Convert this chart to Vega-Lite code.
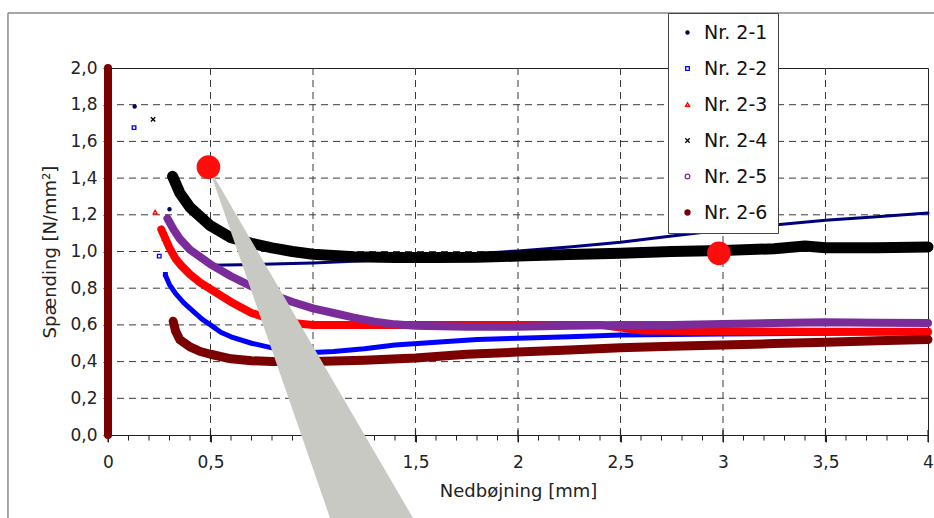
{
  "$schema": "https://vega.github.io/schema/vega-lite/v6.json",
  "width": 820,
  "height": 367,
  "autosize": {"type": "none"},
  "padding": {"left": 108, "top": 68, "right": 6, "bottom": 83},
  "background": "white",
  "config": {
    "font": "DejaVu Sans",
    "view": {"stroke": "#222", "strokeWidth": 1},
    "axis": {
      "labelFont": "DejaVu Sans", "titleFont": "DejaVu Sans",
      "labelColor": "#222", "titleColor": "#222", "titleFontWeight": "normal",
      "domainColor": "#222", "ticks": true, "tickColor": "#222", "tickWidth": 1, "grid": false,
      "labelFontSize": 17, "titleFontSize": 18,
      "labelOverlap": false, "labelFlush": false
    },
    "axisX": {
      "tickCount": 8, "tickSize": 7,
      "labelExpr": "datum.value == 1 ? '' : replace(format(datum.value,'~g'),'.',',')",
      "labelPadding": 12, "titlePadding": 12
    },
    "axisY": {
      "tickCount": 10, "tickSize": 5,
      "labelExpr": "replace(format(datum.value,'.1f'),'.',',')",
      "labelPadding": 6, "titlePadding": 10
    }
  },
  "datasets": {
    "zero": [
      {"s": "Nr. 2-6", "x": 0, "y": 0},
      {"s": "Nr. 2-6", "x": 0, "y": 2.0}
    ],
    "xgrid": [{"x": 0.5}, {"x": 1}, {"x": 1.5}, {"x": 2}, {"x": 2.5}, {"x": 3}, {"x": 3.5}],
    "ygrid": [{"y": 0.2}, {"y": 0.4}, {"y": 0.6}, {"y": 0.8}, {"y": 1.0}, {"y": 1.2}, {"y": 1.4}, {"y": 1.6}, {"y": 1.8}],
    "xminor": [
      {"x": 0.1, "y": 0}, {"x": 0.2, "y": 0}, {"x": 0.3, "y": 0}, {"x": 0.4, "y": 0}, {"x": 0.6, "y": 0}, {"x": 0.7, "y": 0}, {"x": 0.8, "y": 0}, {"x": 0.9, "y": 0},
      {"x": 1.1, "y": 0}, {"x": 1.2, "y": 0}, {"x": 1.3, "y": 0}, {"x": 1.4, "y": 0}, {"x": 1.6, "y": 0}, {"x": 1.7, "y": 0}, {"x": 1.8, "y": 0}, {"x": 1.9, "y": 0},
      {"x": 2.1, "y": 0}, {"x": 2.2, "y": 0}, {"x": 2.3, "y": 0}, {"x": 2.4, "y": 0}, {"x": 2.6, "y": 0}, {"x": 2.7, "y": 0}, {"x": 2.8, "y": 0}, {"x": 2.9, "y": 0},
      {"x": 3.1, "y": 0}, {"x": 3.2, "y": 0}, {"x": 3.3, "y": 0}, {"x": 3.4, "y": 0}, {"x": 3.6, "y": 0}, {"x": 3.7, "y": 0}, {"x": 3.8, "y": 0}, {"x": 3.9, "y": 0}
    ],
    "xmajor": [{"x": 0, "y": 0}, {"x": 0.5, "y": 0}, {"x": 1, "y": 0}, {"x": 1.5, "y": 0}, {"x": 2, "y": 0}, {"x": 2.5, "y": 0}, {"x": 3, "y": 0}, {"x": 3.5, "y": 0}, {"x": 4, "y": 0}],
    "curves": [
      {"s": "Nr. 2-1", "x": 0.5, "y": 0.925}, {"s": "Nr. 2-1", "x": 0.75, "y": 0.93}, {"s": "Nr. 2-1", "x": 1.0, "y": 0.937},
      {"s": "Nr. 2-1", "x": 1.25, "y": 0.95}, {"s": "Nr. 2-1", "x": 1.5, "y": 0.965}, {"s": "Nr. 2-1", "x": 1.75, "y": 0.985},
      {"s": "Nr. 2-1", "x": 2.0, "y": 1.003}, {"s": "Nr. 2-1", "x": 2.25, "y": 1.025}, {"s": "Nr. 2-1", "x": 2.5, "y": 1.05},
      {"s": "Nr. 2-1", "x": 2.75, "y": 1.085}, {"s": "Nr. 2-1", "x": 3.0, "y": 1.117}, {"s": "Nr. 2-1", "x": 3.25, "y": 1.145},
      {"s": "Nr. 2-1", "x": 3.5, "y": 1.17}, {"s": "Nr. 2-1", "x": 3.75, "y": 1.19}, {"s": "Nr. 2-1", "x": 4.0, "y": 1.21},

      {"s": "Nr. 2-2", "x": 0.28, "y": 0.87}, {"s": "Nr. 2-2", "x": 0.3, "y": 0.82}, {"s": "Nr. 2-2", "x": 0.33, "y": 0.77},
      {"s": "Nr. 2-2", "x": 0.37, "y": 0.72}, {"s": "Nr. 2-2", "x": 0.42, "y": 0.67}, {"s": "Nr. 2-2", "x": 0.46, "y": 0.63},
      {"s": "Nr. 2-2", "x": 0.5, "y": 0.6}, {"s": "Nr. 2-2", "x": 0.55, "y": 0.56}, {"s": "Nr. 2-2", "x": 0.6, "y": 0.535},
      {"s": "Nr. 2-2", "x": 0.7, "y": 0.5}, {"s": "Nr. 2-2", "x": 0.8, "y": 0.475}, {"s": "Nr. 2-2", "x": 0.9, "y": 0.457},
      {"s": "Nr. 2-2", "x": 1.0, "y": 0.45}, {"s": "Nr. 2-2", "x": 1.1, "y": 0.455}, {"s": "Nr. 2-2", "x": 1.25, "y": 0.47},
      {"s": "Nr. 2-2", "x": 1.4, "y": 0.49}, {"s": "Nr. 2-2", "x": 1.6, "y": 0.505}, {"s": "Nr. 2-2", "x": 1.8, "y": 0.52},
      {"s": "Nr. 2-2", "x": 2.0, "y": 0.527}, {"s": "Nr. 2-2", "x": 2.25, "y": 0.535}, {"s": "Nr. 2-2", "x": 2.5, "y": 0.545},
      {"s": "Nr. 2-2", "x": 3.0, "y": 0.55}, {"s": "Nr. 2-2", "x": 3.5, "y": 0.555}, {"s": "Nr. 2-2", "x": 4.0, "y": 0.56},

      {"s": "Nr. 2-3", "x": 0.26, "y": 1.12}, {"s": "Nr. 2-3", "x": 0.28, "y": 1.07}, {"s": "Nr. 2-3", "x": 0.3, "y": 1.02},
      {"s": "Nr. 2-3", "x": 0.33, "y": 0.96}, {"s": "Nr. 2-3", "x": 0.36, "y": 0.92}, {"s": "Nr. 2-3", "x": 0.4, "y": 0.875},
      {"s": "Nr. 2-3", "x": 0.45, "y": 0.83}, {"s": "Nr. 2-3", "x": 0.5, "y": 0.795}, {"s": "Nr. 2-3", "x": 0.6, "y": 0.725},
      {"s": "Nr. 2-3", "x": 0.7, "y": 0.665}, {"s": "Nr. 2-3", "x": 0.8, "y": 0.63}, {"s": "Nr. 2-3", "x": 0.9, "y": 0.61},
      {"s": "Nr. 2-3", "x": 1.0, "y": 0.6}, {"s": "Nr. 2-3", "x": 1.25, "y": 0.6}, {"s": "Nr. 2-3", "x": 1.5, "y": 0.6},
      {"s": "Nr. 2-3", "x": 2.0, "y": 0.6}, {"s": "Nr. 2-3", "x": 2.4, "y": 0.6}, {"s": "Nr. 2-3", "x": 2.6, "y": 0.57},
      {"s": "Nr. 2-3", "x": 3.0, "y": 0.565}, {"s": "Nr. 2-3", "x": 3.5, "y": 0.563}, {"s": "Nr. 2-3", "x": 4.0, "y": 0.562},

      {"s": "Nr. 2-4", "x": 0.315, "y": 1.41}, {"s": "Nr. 2-4", "x": 0.35, "y": 1.32}, {"s": "Nr. 2-4", "x": 0.4, "y": 1.24},
      {"s": "Nr. 2-4", "x": 0.45, "y": 1.19}, {"s": "Nr. 2-4", "x": 0.5, "y": 1.14}, {"s": "Nr. 2-4", "x": 0.6, "y": 1.075},
      {"s": "Nr. 2-4", "x": 0.7, "y": 1.045}, {"s": "Nr. 2-4", "x": 0.8, "y": 1.02}, {"s": "Nr. 2-4", "x": 0.9, "y": 1.0},
      {"s": "Nr. 2-4", "x": 1.0, "y": 0.985}, {"s": "Nr. 2-4", "x": 1.2, "y": 0.972}, {"s": "Nr. 2-4", "x": 1.4, "y": 0.967},
      {"s": "Nr. 2-4", "x": 1.6, "y": 0.967}, {"s": "Nr. 2-4", "x": 1.8, "y": 0.968}, {"s": "Nr. 2-4", "x": 2.0, "y": 0.975},
      {"s": "Nr. 2-4", "x": 2.25, "y": 0.983}, {"s": "Nr. 2-4", "x": 2.5, "y": 0.99}, {"s": "Nr. 2-4", "x": 2.75, "y": 1.0},
      {"s": "Nr. 2-4", "x": 3.0, "y": 1.006}, {"s": "Nr. 2-4", "x": 3.25, "y": 1.015}, {"s": "Nr. 2-4", "x": 3.4, "y": 1.03},
      {"s": "Nr. 2-4", "x": 3.5, "y": 1.02}, {"s": "Nr. 2-4", "x": 3.75, "y": 1.02}, {"s": "Nr. 2-4", "x": 4.0, "y": 1.025},

      {"s": "Nr. 2-5", "x": 0.29, "y": 1.18}, {"s": "Nr. 2-5", "x": 0.32, "y": 1.12}, {"s": "Nr. 2-5", "x": 0.35, "y": 1.07},
      {"s": "Nr. 2-5", "x": 0.4, "y": 1.01}, {"s": "Nr. 2-5", "x": 0.45, "y": 0.97}, {"s": "Nr. 2-5", "x": 0.5, "y": 0.93},
      {"s": "Nr. 2-5", "x": 0.6, "y": 0.865}, {"s": "Nr. 2-5", "x": 0.7, "y": 0.81}, {"s": "Nr. 2-5", "x": 0.8, "y": 0.765},
      {"s": "Nr. 2-5", "x": 0.9, "y": 0.725}, {"s": "Nr. 2-5", "x": 1.0, "y": 0.69}, {"s": "Nr. 2-5", "x": 1.1, "y": 0.665},
      {"s": "Nr. 2-5", "x": 1.2, "y": 0.64}, {"s": "Nr. 2-5", "x": 1.3, "y": 0.618}, {"s": "Nr. 2-5", "x": 1.4, "y": 0.603},
      {"s": "Nr. 2-5", "x": 1.5, "y": 0.595}, {"s": "Nr. 2-5", "x": 1.75, "y": 0.59}, {"s": "Nr. 2-5", "x": 2.0, "y": 0.59},
      {"s": "Nr. 2-5", "x": 2.25, "y": 0.595}, {"s": "Nr. 2-5", "x": 2.5, "y": 0.6}, {"s": "Nr. 2-5", "x": 2.75, "y": 0.6},
      {"s": "Nr. 2-5", "x": 3.0, "y": 0.605}, {"s": "Nr. 2-5", "x": 3.25, "y": 0.61}, {"s": "Nr. 2-5", "x": 3.5, "y": 0.615},
      {"s": "Nr. 2-5", "x": 3.75, "y": 0.612}, {"s": "Nr. 2-5", "x": 4.0, "y": 0.61},

      {"s": "Nr. 2-6", "x": 0.318, "y": 0.62}, {"s": "Nr. 2-6", "x": 0.33, "y": 0.565}, {"s": "Nr. 2-6", "x": 0.35, "y": 0.52},
      {"s": "Nr. 2-6", "x": 0.4, "y": 0.48}, {"s": "Nr. 2-6", "x": 0.45, "y": 0.455}, {"s": "Nr. 2-6", "x": 0.5, "y": 0.44},
      {"s": "Nr. 2-6", "x": 0.6, "y": 0.415}, {"s": "Nr. 2-6", "x": 0.7, "y": 0.405}, {"s": "Nr. 2-6", "x": 0.8, "y": 0.4},
      {"s": "Nr. 2-6", "x": 1.0, "y": 0.4}, {"s": "Nr. 2-6", "x": 1.25, "y": 0.407}, {"s": "Nr. 2-6", "x": 1.5, "y": 0.42},
      {"s": "Nr. 2-6", "x": 1.75, "y": 0.44}, {"s": "Nr. 2-6", "x": 2.0, "y": 0.452}, {"s": "Nr. 2-6", "x": 2.25, "y": 0.463},
      {"s": "Nr. 2-6", "x": 2.5, "y": 0.475}, {"s": "Nr. 2-6", "x": 2.75, "y": 0.483}, {"s": "Nr. 2-6", "x": 3.0, "y": 0.49},
      {"s": "Nr. 2-6", "x": 3.25, "y": 0.498}, {"s": "Nr. 2-6", "x": 3.5, "y": 0.505}, {"s": "Nr. 2-6", "x": 3.75, "y": 0.513},
      {"s": "Nr. 2-6", "x": 4.0, "y": 0.52}
    ],
    "markers": [
      {"s": "Nr. 2-1", "x": 0.13, "y": 1.79}, {"s": "Nr. 2-1", "x": 0.3, "y": 1.23},
      {"s": "Nr. 2-2", "x": 0.127, "y": 1.675}, {"s": "Nr. 2-2", "x": 0.25, "y": 0.975}, {"s": "Nr. 2-2", "x": 0.28, "y": 0.875},
      {"s": "Nr. 2-3", "x": 0.23, "y": 1.215}, {"s": "Nr. 2-3", "x": 0.26, "y": 1.12}, {"s": "Nr. 2-3", "x": 0.275, "y": 1.07},
      {"s": "Nr. 2-4", "x": 0.22, "y": 1.72}, {"s": "Nr. 2-4", "x": 0.315, "y": 1.41}, {"s": "Nr. 2-4", "x": 0.33, "y": 1.37}, {"s": "Nr. 2-4", "x": 0.345, "y": 1.34},
      {"s": "Nr. 2-5", "x": 0.29, "y": 1.18}, {"s": "Nr. 2-5", "x": 0.305, "y": 1.15}, {"s": "Nr. 2-5", "x": 0.32, "y": 1.12}, {"s": "Nr. 2-5", "x": 0.34, "y": 1.09}, {"s": "Nr. 2-5", "x": 4.0, "y": 0.61},
      {"s": "Nr. 2-6", "x": 0.318, "y": 0.62}
    ],
    "pointer": [
      {"y": 1.46, "x": 0.49, "xr": 0.49},
      {"y": -0.6, "x": 1.129, "xr": 1.565}
    ],
    "callouts": [
      {"x": 0.49, "y": 1.46},
      {"x": 2.98, "y": 0.99}
    ],
    "frame": [
      {"x": -0.488, "y": 2.3, "x2": 4.3, "y2": -0.6}
    ]
  },
  "layer": [
    {
      "data": {"name": "xgrid"},
      "mark": {"type": "rule", "color": "#3a3a3a", "strokeWidth": 1, "strokeDash": [7, 5]},
      "encoding": {
        "x": {"field": "x", "type": "quantitative", "title": "Nedbøjning [mm]", "scale": {"domain": [0, 4], "nice": false, "zero": false}}
      }
    },
    {
      "data": {"name": "ygrid"},
      "mark": {"type": "rule", "color": "#3a3a3a", "strokeWidth": 1, "strokeDash": [7, 5]},
      "encoding": {
        "y": {"field": "y", "type": "quantitative", "title": "Spænding [N/mm²]", "scale": {"domain": [0, 2], "nice": false, "zero": false}}
      }
    },
    {
      "data": {"name": "xminor"},
      "mark": {"type": "tick", "orient": "vertical", "color": "#222", "size": 5, "thickness": 1, "yOffset": 3, "opacity": 1},
      "encoding": {
        "x": {"field": "x", "type": "quantitative", "title": "Nedbøjning [mm]", "scale": {"domain": [0, 4], "nice": false, "zero": false}},
        "y": {"field": "y", "type": "quantitative", "title": "Spænding [N/mm²]", "scale": {"domain": [0, 2], "nice": false, "zero": false}}
      }
    },
    {
      "data": {"name": "xmajor"},
      "mark": {"type": "tick", "orient": "vertical", "color": "#222", "size": 12, "thickness": 1.2, "yOffset": 1, "opacity": 1},
      "encoding": {
        "x": {"field": "x", "type": "quantitative", "title": "Nedbøjning [mm]", "scale": {"domain": [0, 4], "nice": false, "zero": false}},
        "y": {"field": "y", "type": "quantitative", "title": "Spænding [N/mm²]", "scale": {"domain": [0, 2], "nice": false, "zero": false}}
      }
    },
    {
      "data": {"name": "curves"},
      "transform": [{"filter": "datum.s == 'Nr. 2-1'"}],
      "mark": {"type": "line", "color": "#00007a", "strokeWidth": 3, "strokeCap": "round", "strokeJoin": "round"},
      "encoding": {
        "x": {"field": "x", "type": "quantitative", "title": "Nedbøjning [mm]", "scale": {"domain": [0, 4], "nice": false, "zero": false}},
        "y": {"field": "y", "type": "quantitative", "title": "Spænding [N/mm²]", "scale": {"domain": [0, 2], "nice": false, "zero": false}}
      }
    },
    {
      "data": {"name": "frame"},
      "mark": {"type": "rule", "color": "#8a8a8a", "strokeWidth": 1.5},
      "encoding": {
        "x": {"field": "x", "type": "quantitative", "title": "Nedbøjning [mm]", "scale": {"domain": [0, 4], "nice": false, "zero": false}},
        "y": {"field": "y", "type": "quantitative", "title": "Spænding [N/mm²]", "scale": {"domain": [0, 2], "nice": false, "zero": false}},
        "y2": {"field": "y2"}
      }
    },
    {
      "data": {"name": "frame"},
      "mark": {"type": "rule", "color": "#8a8a8a", "strokeWidth": 1.5},
      "encoding": {
        "x": {"field": "x", "type": "quantitative", "title": "Nedbøjning [mm]", "scale": {"domain": [0, 4], "nice": false, "zero": false}},
        "y": {"field": "y", "type": "quantitative", "title": "Spænding [N/mm²]", "scale": {"domain": [0, 2], "nice": false, "zero": false}},
        "x2": {"field": "x2"}
      }
    },
    {
      "data": {"name": "curves"},
      "transform": [{"filter": "datum.s == 'Nr. 2-2'"}],
      "mark": {"type": "line", "color": "#0000ff", "strokeWidth": 5, "strokeCap": "round", "strokeJoin": "round"},
      "encoding": {
        "x": {"field": "x", "type": "quantitative", "title": "Nedbøjning [mm]", "scale": {"domain": [0, 4], "nice": false, "zero": false}},
        "y": {"field": "y", "type": "quantitative", "title": "Spænding [N/mm²]", "scale": {"domain": [0, 2], "nice": false, "zero": false}}
      }
    },
    {
      "data": {"name": "curves"},
      "transform": [{"filter": "datum.s == 'Nr. 2-3'"}],
      "mark": {"type": "line", "color": "#ff0000", "strokeWidth": 8, "strokeCap": "round", "strokeJoin": "round"},
      "encoding": {
        "x": {"field": "x", "type": "quantitative", "title": "Nedbøjning [mm]", "scale": {"domain": [0, 4], "nice": false, "zero": false}},
        "y": {"field": "y", "type": "quantitative", "title": "Spænding [N/mm²]", "scale": {"domain": [0, 2], "nice": false, "zero": false}}
      }
    },
    {
      "data": {"name": "curves"},
      "transform": [{"filter": "datum.s == 'Nr. 2-4'"}],
      "mark": {"type": "line", "color": "#000000", "strokeWidth": 11, "strokeCap": "round", "strokeJoin": "round"},
      "encoding": {
        "x": {"field": "x", "type": "quantitative", "title": "Nedbøjning [mm]", "scale": {"domain": [0, 4], "nice": false, "zero": false}},
        "y": {"field": "y", "type": "quantitative", "title": "Spænding [N/mm²]", "scale": {"domain": [0, 2], "nice": false, "zero": false}}
      }
    },
    {
      "data": {"name": "curves"},
      "transform": [{"filter": "datum.s == 'Nr. 2-5'"}],
      "mark": {"type": "line", "color": "#7b2c9b", "strokeWidth": 8, "strokeCap": "round", "strokeJoin": "round"},
      "encoding": {
        "x": {"field": "x", "type": "quantitative", "title": "Nedbøjning [mm]", "scale": {"domain": [0, 4], "nice": false, "zero": false}},
        "y": {"field": "y", "type": "quantitative", "title": "Spænding [N/mm²]", "scale": {"domain": [0, 2], "nice": false, "zero": false}}
      }
    },
    {
      "data": {"name": "curves"},
      "transform": [{"filter": "datum.s == 'Nr. 2-6'"}],
      "mark": {"type": "line", "color": "#7b0000", "strokeWidth": 9, "strokeCap": "round", "strokeJoin": "round"},
      "encoding": {
        "x": {"field": "x", "type": "quantitative", "title": "Nedbøjning [mm]", "scale": {"domain": [0, 4], "nice": false, "zero": false}},
        "y": {"field": "y", "type": "quantitative", "title": "Spænding [N/mm²]", "scale": {"domain": [0, 2], "nice": false, "zero": false}}
      }
    },
    {
      "data": {"name": "zero"},
      "mark": {"type": "line", "color": "#7b0000", "strokeWidth": 8, "strokeCap": "round"},
      "encoding": {
        "x": {"field": "x", "type": "quantitative", "title": "Nedbøjning [mm]", "scale": {"domain": [0, 4], "nice": false, "zero": false}},
        "y": {"field": "y", "type": "quantitative", "title": "Spænding [N/mm²]", "scale": {"domain": [0, 2], "nice": false, "zero": false}}
      }
    },
    {
      "data": {"name": "markers"},
      "mark": {"type": "point", "strokeWidth": 1.3, "opacity": 1},
      "encoding": {
        "x": {"field": "x", "type": "quantitative", "title": "Nedbøjning [mm]", "scale": {"domain": [0, 4], "nice": false, "zero": false}},
        "y": {"field": "y", "type": "quantitative", "title": "Spænding [N/mm²]", "scale": {"domain": [0, 2], "nice": false, "zero": false}},
        "shape": {
          "field": "s", "type": "nominal",
          "scale": {"domain": ["Nr. 2-1","Nr. 2-2","Nr. 2-3","Nr. 2-4","Nr. 2-5","Nr. 2-6"],
                    "range": ["circle","square","triangle-up","M-1,-1L1,1M-1,1L1,-1","circle","circle"]},
          "legend": {
            "title": null, "orient": "none", "legendX": 560, "legendY": -55,
            "fillColor": "white", "strokeColor": "#444", "padding": 10,
            "rowPadding": 16, "labelFontSize": 19, "labelFont": "DejaVu Sans",
            "labelColor": "#111", "symbolStrokeWidth": 1.3, "labelOffset": 7, "zindex": 1
          }
        },
        "stroke": {
          "field": "s", "type": "nominal",
          "scale": {"domain": ["Nr. 2-1","Nr. 2-2","Nr. 2-3","Nr. 2-4","Nr. 2-5","Nr. 2-6"],
                    "range": ["#000055","#0000ff","#ff0000","#000000","#7b2c9b","#7b0000"]}
        },
        "fill": {
          "field": "s", "type": "nominal",
          "scale": {"domain": ["Nr. 2-1","Nr. 2-2","Nr. 2-3","Nr. 2-4","Nr. 2-5","Nr. 2-6"],
                    "range": ["#000055","transparent","transparent","transparent","transparent","#7b0000"]}
        },
        "size": {
          "field": "s", "type": "nominal",
          "scale": {"domain": ["Nr. 2-1","Nr. 2-2","Nr. 2-3","Nr. 2-4","Nr. 2-5","Nr. 2-6"],
                    "range": [10, 25, 35, 80, 45, 50]}
        }
      }
    },
    {
      "data": {"name": "pointer"},
      "mark": {"type": "area", "orient": "horizontal", "color": "#c9c9c4", "opacity": 1},
      "encoding": {
        "x": {"field": "x", "type": "quantitative", "title": "Nedbøjning [mm]", "scale": {"domain": [0, 4], "nice": false, "zero": false}},
        "y": {"field": "y", "type": "quantitative", "title": "Spænding [N/mm²]", "scale": {"domain": [0, 2], "nice": false, "zero": false}},
        "x2": {"field": "xr"}
      }
    },
    {
      "data": {"name": "callouts"},
      "mark": {"type": "point", "filled": true, "shape": "circle", "color": "#ff0d0d", "size": 560, "opacity": 1},
      "encoding": {
        "x": {"field": "x", "type": "quantitative", "title": "Nedbøjning [mm]", "scale": {"domain": [0, 4], "nice": false, "zero": false}},
        "y": {"field": "y", "type": "quantitative", "title": "Spænding [N/mm²]", "scale": {"domain": [0, 2], "nice": false, "zero": false}}
      }
    }
  ]
}
